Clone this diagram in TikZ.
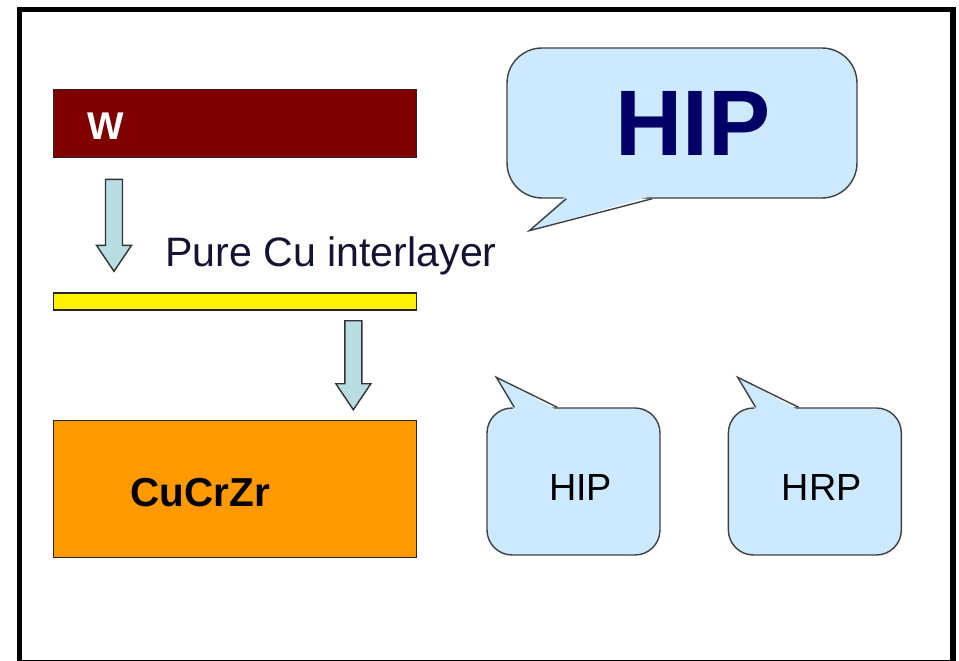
\documentclass[tikz,border=0pt]{standalone}
\usepackage{fontspec}
\setmainfont{Liberation Sans}
\usetikzlibrary{positioning, calc}

\definecolor{wred}{RGB}{128,0,0}
\definecolor{cuorange}{RGB}{255,153,0}
\definecolor{bubblefill}{RGB}{204,233,255}
\definecolor{arrowfill}{RGB}{184,221,226}
\definecolor{navy}{RGB}{0,0,102}
\definecolor{textdark}{RGB}{20,20,50}

% block arrow pointing down, from top centre (#1) to tip (#2)
\newcommand{\fatarrow}[2]{%
  \filldraw[arrowbody] ($(#1)+(-8.5,0)$) -- ($(#2)+(-8.5,-26)$) -- ($(#2)+(-17.5,-26)$) -- (#2)
    -- ($(#2)+(17.5,-26)$) -- ($(#2)+(8.5,-26)$) -- ($(#1)+(8.5,0)$) -- cycle;}
\newcommand{\sinktext}[2]{\raisebox{-#1}[\height][0pt]{#2}}

\begin{document}
\begin{tikzpicture}[
  x=0.02cm, y=-0.02cm,
  plate/.style={draw=black!85, line width=0.8pt, minimum width=7.26cm, inner sep=0pt},
  bubble/.style={draw=black!75, fill=bubblefill, line width=0.8pt, rounded corners=0.5cm},
  tailline/.style={draw=black!75, line width=0.8pt, line join=miter},
  arrowbody/.style={draw=black!80, fill=arrowfill, line width=0.8pt, line join=miter},
  boldfont/.style={font=\fontsize{23pt}{27pt}\selectfont\bfseries},
  smallfont/.style={font=\fontsize{21.5pt}{26pt}\selectfont},
  bigfont/.style={font=\fontsize{53pt}{60pt}\selectfont\bfseries, text=navy}
]
  \useasboundingbox (0,0) rectangle (959,661);
  \fill[white] (0,0) rectangle (959,661);
  \draw[line width=3.4pt] (19.5,9.5) rectangle (952.5,663);

  % layers
  \node[plate, fill=wred, minimum height=1.36cm, text width=5.9cm, inner xsep=0.68cm, align=left, font=\fontsize{22pt}{26pt}\selectfont\bfseries, text=white, anchor=north west] (wbar) at (53,89) {\sinktext{0.05cm}{W}};
  \node[plate, fill=yellow, minimum height=0.34cm, below=2.68cm of wbar] (inter) {};
  \node[plate, fill=cuorange, minimum height=2.74cm, text width=4.18cm, inner xsep=1.54cm, align=left, boldfont, below=2.18cm of inter] (cucrzr) {\sinktext{0.06cm}{CuCrZr}};

  \node[font=\fontsize{23.4pt}{28pt}\selectfont, text=textdark, inner sep=0pt, anchor=base west] (culabel) at ($(inter.north west)+(112,-26)$) {Pure Cu interlayer};

  % arrows
  \coordinate (a1top) at ($(wbar.south west)+(61,21)$);
  \coordinate (a1tip) at ($(inter.north west)+(61,-21)$);
  \coordinate (a2top) at ($(inter.south east)+(-64,10)$);
  \coordinate (a2tip) at ($(cucrzr.north east)+(-64,-10)$);
  \fatarrow{a1top}{a1tip}
  \fatarrow{a2top}{a2tip}

  % bubbles
  \node[bubble, rounded corners=0.7cm, minimum width=7cm, minimum height=3cm, bigfont] (hipbig) at (682,123) {\hspace*{0.44cm}HIP};
  \fill[bubblefill] ($(hipbig.south west)+(60,-3)$) -- ($(hipbig.south west)+(23,32)$) -- ($(hipbig.south west)+(146,-3)$) -- cycle;
  \draw[tailline] ($(hipbig.south west)+(60,0)$) -- ($(hipbig.south west)+(23,32)$) -- ($(hipbig.south west)+(146,0)$);

  \node[bubble, minimum width=3.46cm, minimum height=2.94cm, smallfont] (hipsmall) at (573.5,481.5) {\hspace*{0.28cm}\sinktext{0.12cm}{HIP}};
  \node[bubble, minimum width=3.46cm, minimum height=2.94cm, smallfont, right=1.34cm of hipsmall] (hrpsmall) {\hspace*{0.28cm}\sinktext{0.12cm}{HRP}};
  \foreach \b in {hipsmall,hrpsmall}{
    \fill[bubblefill] ($(\b.north west)+(28,3)$) -- ($(\b.north west)+(10,-30)$) -- ($(\b.north west)+(71,3)$) -- cycle;
    \draw[tailline] ($(\b.north west)+(28,0)$) -- ($(\b.north west)+(10,-30)$) -- ($(\b.north west)+(71,0)$);
  }
\end{tikzpicture}
\end{document}
